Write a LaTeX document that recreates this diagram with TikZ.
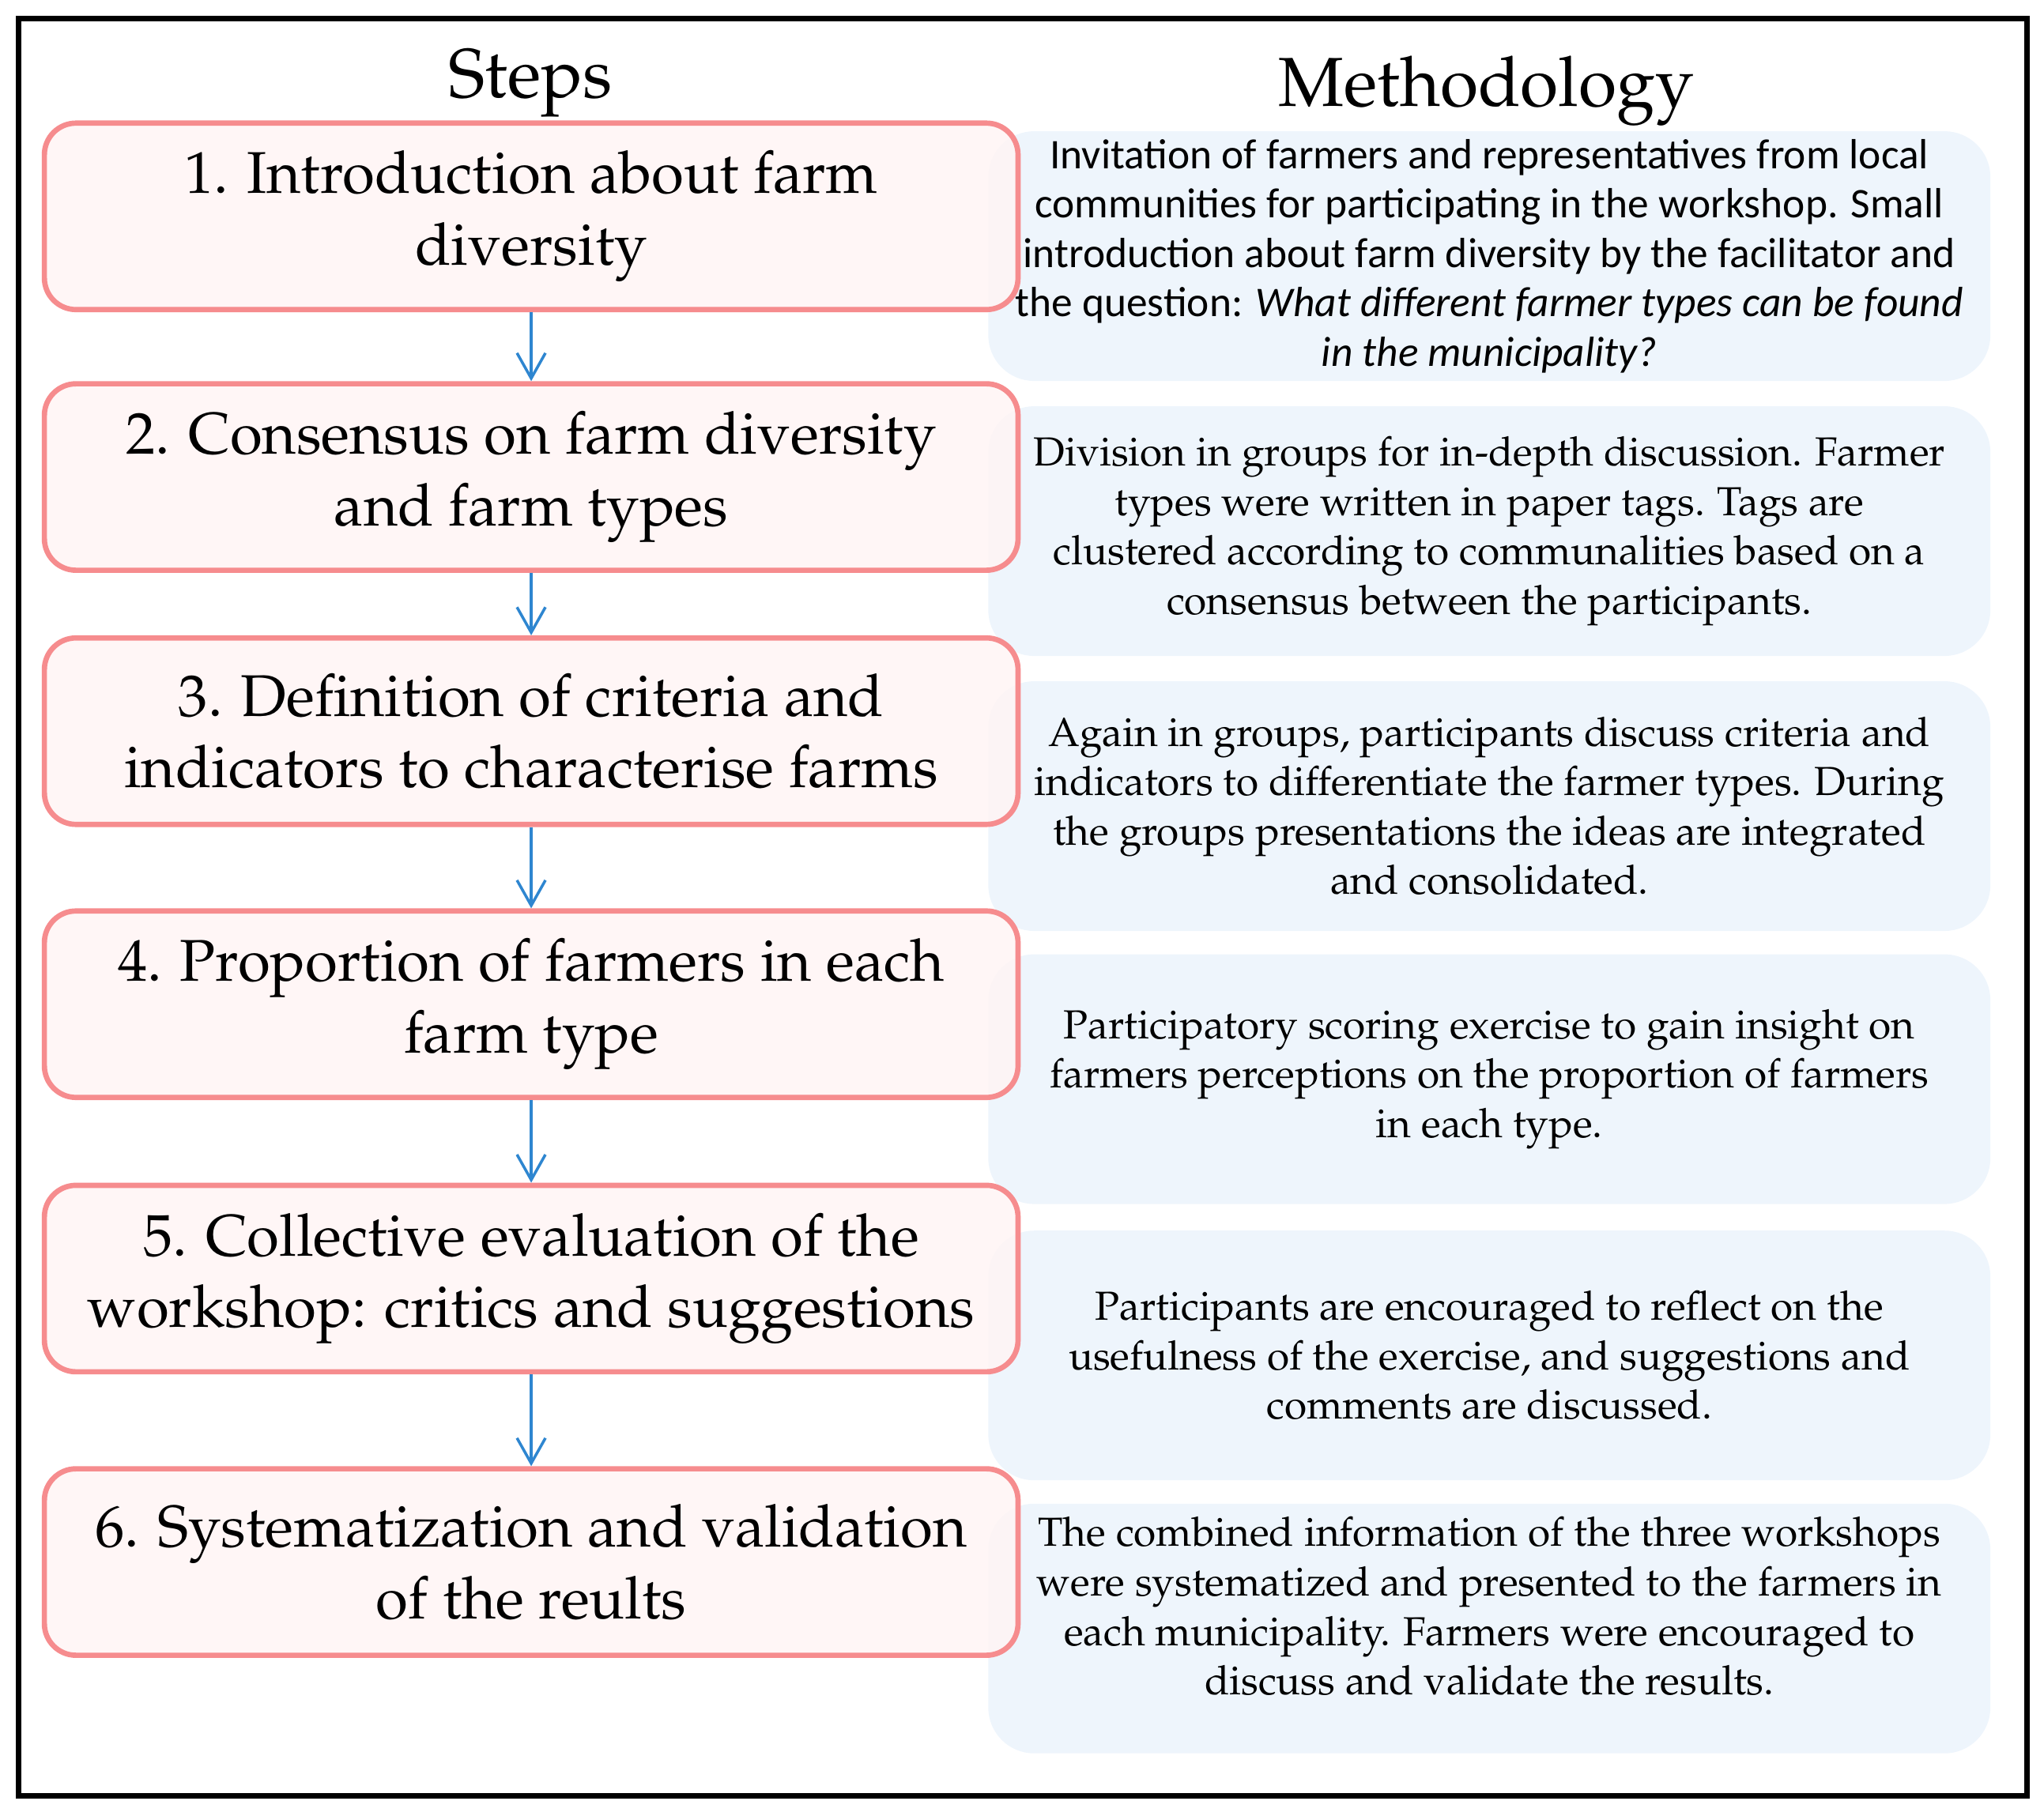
\documentclass[tikz,border=0pt]{standalone}
\usepackage[T1]{fontenc}
\usepackage{fontspec}
\newfontfamily\calibri{Carlito}
\newcommand{\pala}{\fontencoding{T1}\fontfamily{ppl}\selectfont}
\usetikzlibrary{arrows.meta}
\definecolor{stepborder}{RGB}{246,140,142}
\definecolor{stepfill}{RGB}{255,244,244}
\definecolor{methfill}{RGB}{238,245,252}
\definecolor{flowblue}{RGB}{46,134,208}

\begin{document}
\begin{tikzpicture}[x=0.016492cm,y=-0.016492cm,
    title/.style={font=\pala\fontsize{25}{30}\selectfont},
    stepbox/.style={draw=stepborder,line width=1.9pt,fill=stepfill,
      fill opacity=0.85,text opacity=1,rounded corners=0.4cm,
      minimum width=12.32cm,minimum height=2.36cm,inner sep=2pt,
      align=center,font=\pala\fontsize{21.2}{25.8}\selectfont},
    methtext/.style={align=center,font=\pala\fontsize{14.6}{17.8}\selectfont},
    methbox/.style={methtext,fill=methfill,rounded corners=0.58cm,
      minimum width=12.68cm,minimum height=3.16cm,inner sep=2pt},
    flow/.style={draw=flowblue,line width=1pt,
      -{Straight Barb[length=0.32cm,width=0.36cm]}}]

  \useasboundingbox (0,0) rectangle (1568,1392.8);
  \draw [line width=2pt] (14,14) rectangle (1555,1378);

  \node [title] (steps) at (407,64) {Steps};
  \node [title] (method) at (1140,70) {Methodology};

  % methodology column
  \node [methbox,font=\calibri\fontsize{15.2}{17.8}\selectfont] (m1)
        at (1142.5,196.5)
        {Invitation of farmers and representatives from local\\
         communities for participating in the workshop. Small\\
         introduction about farm diversity by the facilitator and\\
         the question: \textit{What different farmer types can be found}\\
         \textit{in the municipality?}};

  \node [methbox] (m2) at (1142.5,407.5)
        {Division in groups for in-depth discussion. Farmer\\
         types were written in paper tags. Tags are\\
         clustered according to communalities based on a\\
         consensus between the participants.};

  \node [methbox] (m3) at (1142.5,618.5)
        {Again in groups, participants discuss criteria and\\
         indicators to differentiate the farmer types. During\\
         the groups presentations the ideas are integrated\\
         and consolidated.};

  \node [methbox] (m4) at (1142.5,828)
        {Participatory scoring exercise to gain insight on\\
         farmers perceptions on the proportion of farmers\\
         in each type.};

  \node [methbox] (m5) at (1142.5,1040)
        {Participants are encouraged to reflect on the\\
         usefulness of the exercise, and suggestions and\\
         comments are discussed.};

  \node [methbox] (m6) at (1142.5,1249.5) {};
  \node [methtext] (m6text) at ([yshift=0.28cm]m6.center)
        {The combined information of the three workshops\\
         were systematized and presented to the farmers in\\
         each municipality. Farmers were encouraged to\\
         discuss and validate the results.};

  % steps column
  \node [stepbox] (s1) at (407.5,166)
        {1. Introduction about farm\\ diversity};
  \node [stepbox] (s2) at (407.5,366)
        {2. Consensus on farm diversity\\ and farm types};
  \node [stepbox] (s3) at (407.5,561)
        {3. Definition of criteria and\\ indicators to characterise farms};
  \node [stepbox] (s4) at (407.5,770.5)
        {4. Proportion of farmers in each\\ farm type};
  \node [stepbox] (s5) at (407.5,981)
        {5. Collective evaluation of the\\ workshop: critics and suggestions};
  \node [stepbox] (s6) at (407.5,1198.5)
        {6. Systematization and validation\\ of the reults};

  \foreach \a/\b in {s1/s2,s2/s3,s3/s4,s4/s5,s5/s6}
    \draw [flow] (\a) -- (\b);

\end{tikzpicture}
\end{document}
